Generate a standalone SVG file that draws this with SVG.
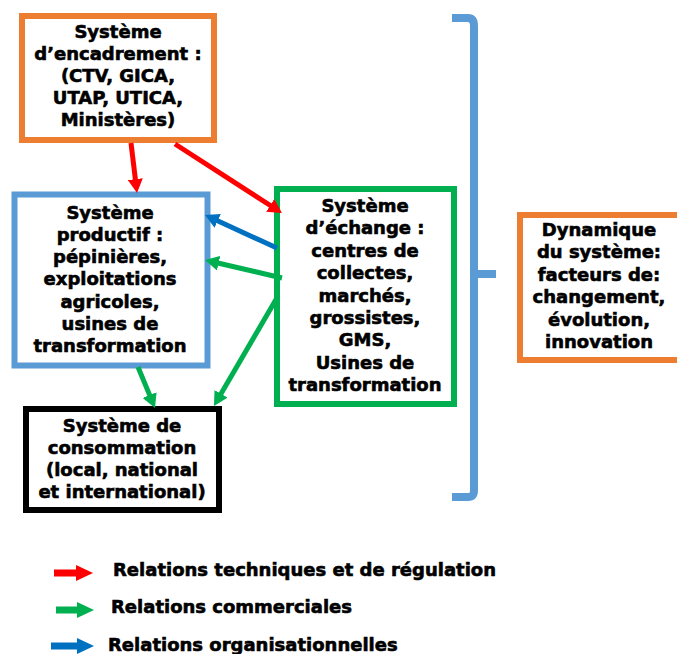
<svg xmlns="http://www.w3.org/2000/svg" width="677" height="654" viewBox="0 0 677 654">
<style>
  .t { font-family: "DejaVu Sans", "Liberation Sans", sans-serif; font-weight: bold; font-size: 18px; fill: #000; stroke: #000; stroke-width: 0.6; text-anchor: middle; }
  .lg { font-family: "DejaVu Sans", "Liberation Sans", sans-serif; font-weight: bold; font-size: 18px; fill: #000; stroke: #000; stroke-width: 0.6; }
  .box { fill: #fff; stroke-width: 6; }
  .c { fill: none; stroke-width: 5; }
</style>
<defs>
  <marker id="ar" markerUnits="userSpaceOnUse" markerWidth="14" markerHeight="15" refX="2" refY="7.5" orient="auto"><path d="M0,0 L14,7.5 L0,15 z" fill="#FF0000"/></marker>
  <marker id="ag" markerUnits="userSpaceOnUse" markerWidth="14" markerHeight="15" refX="2" refY="7.5" orient="auto"><path d="M0,0 L14,7.5 L0,15 z" fill="#00B050"/></marker>
  <marker id="ab" markerUnits="userSpaceOnUse" markerWidth="14" markerHeight="15" refX="2" refY="7.5" orient="auto"><path d="M0,0 L14,7.5 L0,15 z" fill="#0070C0"/></marker>
</defs>
<rect width="677" height="654" fill="#fff"/>

<g id="encadrement">
  <rect class="box" x="22" y="16" width="192" height="124" stroke="#ED7D31"/>
  <text class="t" x="118" y="38">Système</text>
  <text class="t" x="118" y="60">d’encadrement :</text>
  <text class="t" x="118" y="82">(CTV, GICA,</text>
  <text class="t" x="118" y="104">UTAP, UTICA,</text>
  <text class="t" x="118" y="126">Ministères)</text>
</g>

<g id="productif">
  <rect class="box" x="14.5" y="194.5" width="193" height="171" stroke="#5B9BD5" stroke-width="5"/>
  <text class="t" x="110" y="219">Système</text>
  <text class="t" x="110" y="241">productif :</text>
  <text class="t" x="110" y="263">pépinières,</text>
  <text class="t" x="110" y="285">exploitations</text>
  <text class="t" x="110" y="308">agricoles,</text>
  <text class="t" x="110" y="330">usines de</text>
  <text class="t" x="110" y="352">transformation</text>
</g>

<g id="echange">
  <rect class="box" x="277" y="189" width="177" height="215" stroke="#00B050"/>
  <text class="t" x="365" y="212">Système</text>
  <text class="t" x="365" y="234">d’échange :</text>
  <text class="t" x="365" y="257">centres de</text>
  <text class="t" x="365" y="279">collectes,</text>
  <text class="t" x="365" y="302">marchés,</text>
  <text class="t" x="365" y="324">grossistes,</text>
  <text class="t" x="365" y="346">GMS,</text>
  <text class="t" x="365" y="369">Usines de</text>
  <text class="t" x="365" y="391">transformation</text>
</g>

<g id="consommation">
  <rect class="box" x="26" y="409" width="193" height="101" stroke="#000"/>
  <text class="t" x="122" y="432">Système de</text>
  <text class="t" x="122" y="454">consommation</text>
  <text class="t" x="122" y="476">(local, national</text>
  <text class="t" x="122" y="498">et international)</text>
</g>

<g id="dynamique">
  <rect class="box" x="520" y="215" width="165" height="145" stroke="#ED7D31" stroke-width="5"/>
  <text class="t" x="599" y="236">Dynamique</text>
  <text class="t" x="599" y="258">du système:</text>
  <text class="t" x="599" y="281">facteurs de:</text>
  <text class="t" x="599" y="303">changement,</text>
  <text class="t" x="599" y="326">évolution,</text>
  <text class="t" x="599" y="348">innovation</text>
</g>

<g id="brace">
  <path d="M452,18 H468 Q474,18 474,26 V490 Q474,497 468,497 H452 M474,274 H496" fill="none" stroke="#5B9BD5" stroke-width="8"/>
</g>

<g id="connectors">
  <line class="c" x1="131" y1="143" x2="135.6" y2="181.1" stroke="#FF0000" marker-end="url(#ar)"/>
  <line class="c" x1="175" y1="144" x2="271.9" y2="206.5" stroke="#FF0000" marker-end="url(#ar)"/>
  <line class="c" x1="277" y1="248" x2="215.9" y2="220" stroke="#0070C0" marker-end="url(#ab)"/>
  <line class="c" x1="282" y1="278" x2="216.7" y2="262.7" stroke="#00B050" marker-end="url(#ag)"/>
  <line class="c" x1="278" y1="296" x2="220" y2="395.6" stroke="#00B050" marker-end="url(#ag)"/>
  <line class="c" x1="138" y1="367" x2="150.4" y2="396.9" stroke="#00B050" marker-end="url(#ag)"/>
</g>

<g id="legend">
  <path d="M54,569.5 H76 V565 L93,573 L76,581 V576.5 H54 z" fill="#FF0000"/>
  <text class="lg" x="113" y="576">Relations techniques et de régulation</text>
  <path d="M56,606.5 H77 V602 L94,610 L77,618 V613.5 H56 z" fill="#00B050"/>
  <text class="lg" x="111" y="613">Relations commerciales</text>
  <path d="M51,642.5 H77 V638 L94,646 L77,654 V649.5 H51 z" fill="#0070C0"/>
  <text class="lg" x="108" y="651">Relations organisationnelles</text>
</g>
</svg>
